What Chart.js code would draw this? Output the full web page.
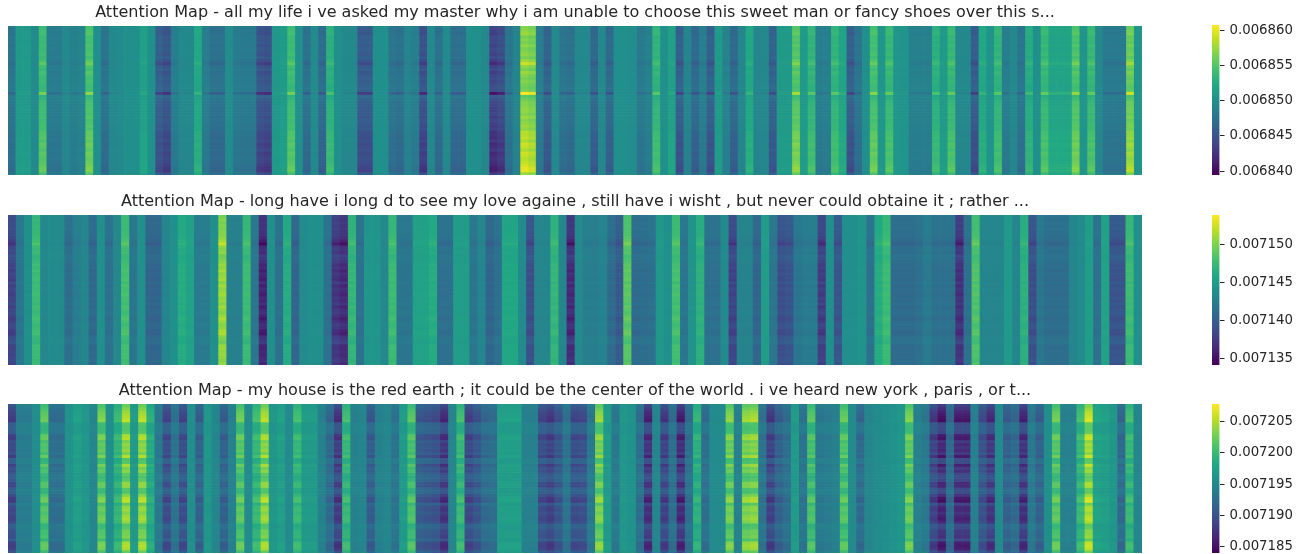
<!DOCTYPE html>
<html>
<head>
  <title>Attention Maps</title>
  <script src="https://cdn.jsdelivr.net/npm/chart.js"></script>
  <style>
    body { margin: 0; background: #fff; }
    canvas { position: absolute; filter: blur(0.4px); }
  </style>
</head>
<body>
<canvas id="map1" style="left:8px;top:0" width="1134" height="175"></canvas>
<canvas id="map2" style="left:8px;top:189px" width="1134" height="176"></canvas>
<canvas id="map3" style="left:8px;top:378px" width="1134" height="175"></canvas>
<canvas id="bar1" style="left:1212px;top:15px" width="100" height="170"></canvas>
<canvas id="bar2" style="left:1212px;top:205px" width="100" height="170"></canvas>
<canvas id="bar3" style="left:1212px;top:394px" width="100" height="160"></canvas>

<script>
  // All values are in millionths (6850 means 0.006850)
  const title1 = 'Attention Map - all my life i ve asked my master why i am unable to choose this sweet man or fancy shoes over this s...';
  const title2 = 'Attention Map - long have i long d to see my love againe , still have i wisht , but never could obtaine it ; rather ...';
  const title3 = 'Attention Map - my house is the red earth ; it could be the center of the world . i ve heard new york , paris , or t...';

  // Value of each token column, read along a typical row
  const columns1 = [
    6847.4, 6851.0, 6851.0, 6849.5, 6854.6, 6848.0, 6848.0, 6849.3, 6848.5, 6848.9,
    6855.3, 6850.0, 6847.2, 6849.3, 6849.5, 6850.0, 6850.0, 6851.7, 6850.0, 6845.3,
    6844.4, 6848.2, 6849.3, 6849.3, 6852.5, 6848.2, 6847.0, 6847.0, 6849.7, 6848.0,
    6847.8, 6847.8, 6844.4, 6844.0, 6850.8, 6851.2, 6854.6, 6850.0, 6847.0, 6849.5,
    6846.5, 6853.4, 6850.0, 6849.3, 6849.3, 6845.0, 6845.0, 6850.0, 6850.0, 6847.4,
    6847.0, 6848.9, 6848.2, 6844.0, 6849.3, 6847.0, 6849.5, 6846.8, 6846.8, 6850.0,
    6850.0, 6849.3, 6842.9, 6843.6, 6847.4, 6848.9, 6858.0, 6857.4, 6848.2, 6845.7,
    6849.5, 6847.4, 6847.0, 6849.3, 6849.3, 6846.1, 6849.3, 6846.3, 6850.0, 6850.0,
    6849.7, 6847.8, 6848.5, 6853.8, 6850.0, 6851.7, 6845.3, 6848.9, 6846.3, 6848.2,
    6845.3, 6851.0, 6848.7, 6846.3, 6849.1, 6852.5, 6849.1, 6849.3, 6845.7, 6851.0,
    6851.0, 6855.9, 6851.0, 6853.8, 6848.2, 6848.5, 6853.8, 6852.1, 6845.3, 6847.4,
    6850.0, 6855.1, 6850.6, 6854.2, 6850.6, 6850.4, 6848.5, 6848.5, 6848.5, 6853.4,
    6851.0, 6854.2, 6849.3, 6849.3, 6845.0, 6852.5, 6850.4, 6853.8, 6848.2, 6849.3,
    6847.4, 6852.9, 6850.0, 6854.2, 6852.1, 6852.1, 6852.1, 6855.5, 6850.4, 6854.2,
    6849.3, 6847.8, 6847.8, 6847.8, 6856.8, 6850.4
  ];
  const columns2 = [
    7138.3, 7141.9, 7143.9, 7147.4, 7143.3, 7143.5, 7143.5, 7141.3, 7142.5, 7143.1,
    7140.9, 7143.9, 7141.5, 7143.3, 7147.8, 7141.9, 7143.9, 7140.7, 7140.7, 7143.1,
    7143.9, 7146.2, 7145.4, 7142.3, 7142.3, 7143.9, 7150.5, 7142.7, 7142.7, 7147.4,
    7141.9, 7136.4, 7143.9, 7141.5, 7146.2, 7140.7, 7143.5, 7143.9, 7143.9, 7141.5,
    7137.5, 7136.8, 7147.0, 7141.5, 7144.4, 7144.4, 7143.3, 7147.4, 7141.9, 7141.9,
    7145.4, 7145.4, 7146.2, 7141.5, 7141.5, 7145.0, 7145.0, 7141.9, 7143.1, 7140.7,
    7141.5, 7145.8, 7145.8, 7143.5, 7139.1, 7143.1, 7143.1, 7147.0, 7143.1, 7136.8,
    7143.5, 7142.5, 7142.5, 7142.9, 7141.1, 7139.9, 7148.6, 7141.1, 7141.3, 7141.5,
    7144.6, 7143.9, 7147.8, 7141.9, 7144.2, 7146.6, 7141.5, 7141.5, 7143.5, 7138.3,
    7142.9, 7142.9, 7140.7, 7145.0, 7141.9, 7139.1, 7139.5, 7141.9, 7142.3, 7142.3,
    7137.9, 7143.9, 7139.5, 7143.9, 7143.9, 7144.2, 7141.5, 7146.2, 7147.4, 7141.1,
    7141.1, 7141.1, 7141.5, 7142.3, 7141.5, 7141.5, 7141.5, 7137.2, 7141.5, 7148.2,
    7143.1, 7143.1, 7143.1, 7144.8, 7143.1, 7146.6, 7139.1, 7141.9, 7141.3, 7141.3,
    7141.3, 7143.1, 7143.5, 7145.0, 7141.5, 7145.4, 7139.5, 7139.5, 7147.4, 7143.9
  ];
  const columns3 = [
    7188.5, 7193.7, 7193.7, 7195.7, 7201.9, 7192.3, 7192.3, 7196.1, 7197.6, 7196.6,
    7194.7, 7202.8, 7195.7, 7200.0, 7204.7, 7197.1, 7204.7, 7199.0, 7193.3, 7189.0,
    7192.8, 7189.0, 7195.7, 7190.9, 7196.6, 7194.7, 7190.9, 7194.2, 7202.3, 7195.2,
    7200.4, 7204.7, 7196.6, 7197.6, 7195.2, 7200.4, 7197.1, 7197.1, 7194.2, 7191.8,
    7187.5, 7200.4, 7194.2, 7194.7, 7190.4, 7194.2, 7194.7, 7192.8, 7197.1, 7201.4,
    7190.4, 7189.9, 7189.4, 7187.0, 7194.7, 7200.4, 7188.5, 7189.9, 7191.8, 7192.3,
    7197.6, 7197.6, 7197.6, 7194.2, 7194.2, 7189.0, 7188.0, 7189.9, 7192.8, 7189.0,
    7189.4, 7193.3, 7203.8, 7197.1, 7193.3, 7196.6, 7196.1, 7192.3, 7186.6, 7194.7,
    7188.0, 7192.3, 7186.1, 7192.3, 7199.5, 7192.3, 7195.2, 7195.2, 7203.3, 7194.2,
    7203.8, 7204.3, 7192.8, 7188.0, 7190.9, 7192.3, 7197.1, 7192.8, 7201.4, 7193.3,
    7193.7, 7194.2, 7201.9, 7195.2, 7191.8, 7194.7, 7195.2, 7195.7, 7196.1, 7196.6,
    7202.8, 7194.2, 7193.3, 7188.0, 7185.6, 7191.8, 7186.1, 7186.1, 7194.2, 7189.4,
    7187.0, 7195.2, 7190.9, 7191.8, 7186.6, 7193.3, 7190.9, 7195.7, 7202.3, 7194.2,
    7194.2, 7200.4, 7205.7, 7198.0, 7197.6, 7196.6, 7191.8, 7200.4, 7194.7
  ];

  // Contrast of each row, read off the horizontal stripes. A cell is not read
  // one by one: it is its column value pushed away from the map's middle by this
  const rows1 = [
    0.85, 0.9, 0.95, 0.8, 0.85, 0.8, 0.9, 0.8, 0.85, 0.9,
    0.8, 0.95, 1.15, 0.9, 0.8, 0.95, 0.85, 0.8, 0.85, 0.8,
    0.75, 0.8, 1.35, 0.65, 0.75, 0.85, 0.85, 0.9, 0.9, 0.85,
    0.95, 0.85, 0.9, 0.95, 0.9, 1.05, 1.05, 1.1, 1.0, 1.15,
    1.1, 1.0, 1.15, 1.1, 1.05, 1.1, 1.15, 1.25, 1.25, 0.95
  ];
  const rows2 = [
    0.9, 0.95, 0.9, 0.95, 0.9, 0.95, 0.95, 1.0, 1.1, 1.25,
    1.0, 0.95, 1.0, 0.85, 0.9, 0.95, 1.05, 1.0, 1.1, 1.0,
    1.05, 1.1, 0.95, 1.1, 1.0, 1.05, 1.1, 1.0, 1.05, 0.95,
    1.1, 1.0, 0.95, 1.05, 1.15, 1.05, 0.95, 1.0, 1.1, 1.15,
    0.95, 0.9, 0.85, 1.05, 1.05, 1.0, 1.05, 1.0, 0.95, 1.05
  ];
  const rows3 = [
    0.75, 0.85, 0.95, 1.0, 1.05, 1.1, 0.65, 0.62, 0.62, 0.68,
    1.0, 1.05, 0.8, 0.92, 0.85, 0.92, 0.8, 1.05, 0.62, 0.65,
    1.0, 0.8, 0.88, 0.68, 0.62, 0.68, 0.92, 0.92, 0.65, 0.62,
    0.85, 1.05, 1.1, 0.7, 0.92, 0.95, 0.85, 0.95, 1.0, 0.92,
    0.62, 0.65, 0.8, 0.8, 0.85, 0.65, 1.0, 1.05, 1.0, 0.75
  ];

  const middles = [6850, 7144, 7195.5];
  const scaleMins = [6839.45, 7134.15, 7183.95];
  const scaleMaxes = [6860.75, 7153.85, 7207.85];
  const ticks1 = [6840, 6845, 6850, 6855, 6860];
  const ticks2 = [7135, 7140, 7145, 7150];
  const ticks3 = [7185, 7190, 7195, 7200, 7205];

  const viridis = [
    [68, 1, 84], [72, 36, 117], [65, 68, 135], [53, 95, 141], [42, 120, 142], [33, 145, 140],
    [34, 168, 132], [68, 191, 112], [122, 209, 81], [189, 223, 38], [253, 231, 37]
  ];

  function viridisColor(t) {
    t = Math.min(1, Math.max(0, t)) * (viridis.length - 1);
    const i = Math.min(viridis.length - 2, Math.floor(t));
    const f = t - i;
    const c = viridis[i].map((v, k) => Math.round(v + (viridis[i + 1][k] - v) * f));
    return `rgb(${c[0]},${c[1]},${c[2]})`;
  }

  // One stacked bar per cell, one dataset per row
  function drawMap(id, title, columns, rows, middle, min, max) {
    const datasets = rows.map(gain => ({
      data: columns.map(() => 1),
      backgroundColor: columns.map(v => viridisColor((middle + (v - middle) * gain - min) / (max - min))),
      barPercentage: 1,
      categoryPercentage: 1
    }));
    new Chart(document.getElementById(id), {
      type: 'bar',
      data: { labels: columns.map((v, i) => i), datasets: datasets },
      options: {
        responsive: false,
        animation: false,
        events: [],
        plugins: {
          legend: { display: false },
          tooltip: { enabled: false },
          title: {
            display: true,
            text: title,
            color: '#262626',
            font: { family: 'DejaVu Sans', size: 16.05, weight: 'normal', lineHeight: 1.2 },
            padding: { top: 3, bottom: 3.8 }
          }
        },
        scales: {
          x: { stacked: true, display: false },
          y: { stacked: true, display: false, reverse: true, min: 0, max: rows.length }
        }
      }
    });
  }

  function drawColorbar(id, ticks, min, max) {
    new Chart(document.getElementById(id), {
      type: 'bar',
      data: {
        labels: [''],
        datasets: [{
          data: [[min, max]],
          barPercentage: 1,
          categoryPercentage: 1,
          backgroundColor: function(ctx) {
            const area = ctx.chart.chartArea;
            if (!area) return viridisColor(0.5);
            const g = ctx.chart.ctx.createLinearGradient(0, area.bottom, 0, area.top);
            viridis.forEach((c, i) => g.addColorStop(i / (viridis.length - 1), `rgb(${c[0]},${c[1]},${c[2]})`));
            return g;
          }
        }]
      },
      options: {
        responsive: false,
        animation: false,
        events: [],
        layout: { padding: { top: 10, bottom: id === 'bar3' ? 1 : 10 } },
        plugins: { legend: { display: false }, tooltip: { enabled: false } },
        scales: {
          x: { display: false },
          y: {
            position: 'right',
            min: min,
            max: max,
            afterBuildTicks: axis => { axis.ticks = ticks.map(v => ({ value: v })); },
            afterFit: axis => { axis.width = 92.5; axis.paddingTop = 0; axis.paddingBottom = 0; },
            border: { display: false },
            grid: { drawOnChartArea: false, drawTicks: true, tickLength: 5, color: '#262626' },
            ticks: {
              autoSkip: false,
              padding: 5,
              color: '#262626',
              font: { family: 'DejaVu Sans', size: 13.3 },
              callback: v => (v / 1e6).toFixed(6)
            }
          }
        }
      }
    });
  }

  drawMap('map1', title1, columns1, rows1, middles[0], scaleMins[0], scaleMaxes[0]);
  drawMap('map2', title2, columns2, rows2, middles[1], scaleMins[1], scaleMaxes[1]);
  drawMap('map3', title3, columns3, rows3, middles[2], scaleMins[2], scaleMaxes[2]);
  drawColorbar('bar1', ticks1, scaleMins[0], scaleMaxes[0]);
  drawColorbar('bar2', ticks2, scaleMins[1], scaleMaxes[1]);
  drawColorbar('bar3', ticks3, scaleMins[2], scaleMaxes[2]);
</script>
</body>
</html>
